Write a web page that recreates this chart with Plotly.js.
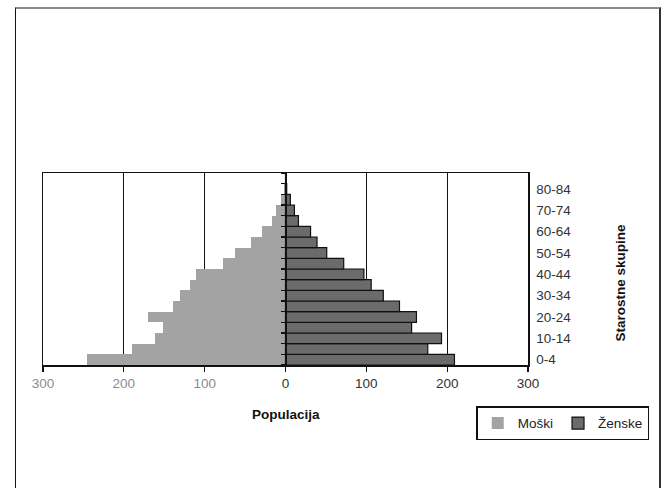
<!DOCTYPE html>
<html>
<head>
<meta charset="utf-8">
<script src="https://cdn.plot.ly/plotly-3.0.1.min.js"></script>
<style>
  html, body { margin: 0; padding: 0; background: #fff; }
  #chart { position: absolute; left: 0; top: 0; width: 663px; height: 488px; }
  #frame { position: absolute; left: 15px; top: 7px; width: 643px; height: 500px;
           border-top: 2px solid #8a8a8a; border-left: 1.5px solid #111; border-right: 2px solid #333;
           pointer-events: none; }
</style>
</head>
<body>
<div id="chart"></div>
<div id="frame"></div>
<script>
const ageGroups = ['0-4','5-9','10-14','15-19','20-24','25-29','30-34','35-39','40-44',
                   '45-49','50-54','55-59','60-64','65-69','70-74','75-79','80-84','85+'];
const male   = [245, 190, 161, 152, 170, 139, 130, 118, 111, 77, 62, 43, 29, 17, 12, 6, 2, 1];
const female = [209, 176, 193, 156, 162, 141, 121, 106, 97, 72, 51, 39, 31, 16, 11, 6, 1.5, 0.5];
const xTickVals = [-300, -200, -100, 0, 100, 200, 300];
const xTickText = ['<span style="color:#8c8c8c">300</span>', '<span style="color:#8c8c8c">200</span>',
                   '<span style="color:#8c8c8c">100</span>', '0', '100', '200', '300'];
const maleName = 'Moški';
const femaleName = 'Ženske';
const xTitle = 'Populacija';
const yTitle = 'Starostne skupine';

const font = 'Liberation Sans, Arial, sans-serif';
const fs = 13.5;

const traces = [
  {
    type: 'bar', orientation: 'h', name: maleName,
    y: ageGroups, x: male.map(v => -v),
    marker: { color: '#a3a3a3', line: { width: 0 } },
    hoverinfo: 'skip'
  },
  {
    type: 'bar', orientation: 'h', name: femaleName,
    y: ageGroups, x: female,
    marker: { color: '#6b6b6b', line: { color: '#111', width: 1.2 } },
    hoverinfo: 'skip'
  },
  {
    type: 'scatter', mode: 'markers', y: ageGroups, x: ageGroups.map(() => 0),
    yaxis: 'y2', marker: { opacity: 0 }, showlegend: false, hoverinfo: 'skip'
  }
];

const layout = {
  width: 663, height: 488,
  margin: { l: 43, r: 135, t: 173, b: 123, autoexpand: false },
  paper_bgcolor: '#fff', plot_bgcolor: '#fff',
  barmode: 'overlay', bargap: 0,
  font: { family: font, size: fs, color: '#222' },
  showlegend: true,
  legend: {
    orientation: 'h', x: 1.25, xanchor: 'right', y: -0.215, yanchor: 'top',
    bordercolor: '#111', borderwidth: 1.5, bgcolor: '#fff',
    font: { family: font, size: fs, color: '#222' },
    itemwidth: 30, traceorder: 'normal'
  },
  xaxis: {
    range: [-300, 300], tickmode: 'array', tickvals: xTickVals, ticktext: xTickText,
    showgrid: true, gridcolor: '#111', gridwidth: 1.3,
    zeroline: false, showline: true, linecolor: '#111', linewidth: 1.5, mirror: true,
    ticks: 'outside', ticklen: 5, tickcolor: '#111', tickwidth: 1.3,
    tickfont: { family: font, size: fs, color: '#333' }, fixedrange: true, automargin: false
  },
  yaxis: {
    type: 'category', categoryarray: ageGroups, categoryorder: 'array',
    range: [-0.5, ageGroups.length - 0.5], side: 'right',
    tickmode: 'array', tickvals: ageGroups.filter((c, i) => i % 2 === 0),
    showgrid: false, zeroline: false, showline: true, linecolor: '#111', linewidth: 1.5, mirror: true,
    ticks: '', ticklabelstandoff: 4,
    tickfont: { family: font, size: fs, color: '#333' }, fixedrange: true, automargin: false
  },
  yaxis2: {
    type: 'category', categoryarray: ageGroups, categoryorder: 'array',
    range: [-0.5, ageGroups.length - 0.5], overlaying: 'y', anchor: 'free', position: 0.5,
    side: 'left', showline: true, linecolor: '#111', linewidth: 2,
    tickmode: 'array', tickvals: ageGroups,
    ticks: 'outside', ticklen: 4, tickcolor: '#111', tickwidth: 1.3, tickson: 'boundaries',
    showticklabels: false, showgrid: false, zeroline: false, fixedrange: true, automargin: false
  },
  annotations: [
    { text: '<b>' + xTitle + '</b>', xref: 'paper', yref: 'paper', x: 0.5, y: -0.26,
      xanchor: 'center', yanchor: 'middle', showarrow: false,
      font: { family: font, size: fs, color: '#111' } },
    { text: '<b>' + yTitle + '</b>', xref: 'paper', yref: 'paper', x: 1.19, y: 0.43,
      xanchor: 'center', yanchor: 'middle', textangle: -90, showarrow: false,
      font: { family: font, size: fs, color: '#111' } }
  ]
};

Plotly.newPlot('chart', traces, layout, { displayModeBar: false, staticPlot: true });
</script>
</body>
</html>
